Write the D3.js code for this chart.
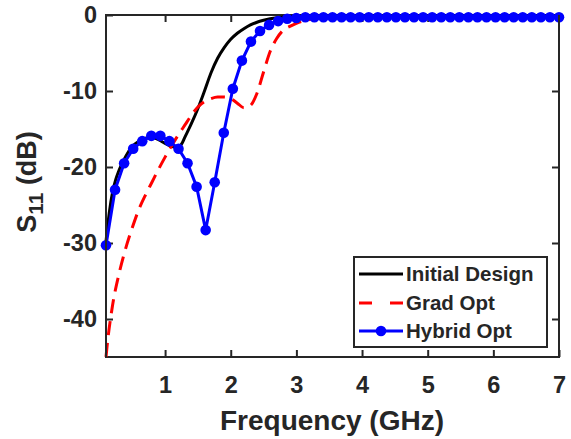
<!DOCTYPE html>
<html>
<head>
<meta charset="utf-8">
<script src="https://cdn.jsdelivr.net/npm/d3@7"></script>
<style>
  html, body { margin: 0; padding: 0; background: #fff; }
  svg { display: block; }
  text { font-family: "Liberation Sans", Arial, sans-serif; font-weight: bold; fill: #262626; }
</style>
</head>
<body>
<svg id="chart" width="571" height="439"></svg>
<script>
// ---- Data ----
const xTicks = [1, 2, 3, 4, 5, 6, 7];
const yTicks = [0, -10, -20, -30, -40];

const initialFreq = [0.1,0.15,0.2,0.25,0.3,0.4,0.5,0.6,0.7,0.8,0.9,1.0,1.1,1.2,1.25,1.3,1.4,1.5,1.6,1.7,1.8,1.9,2.0,2.1,2.2,2.3,2.4,2.5,2.6,2.7,2.8,3.0,3.5,4,5,6,7];
const initialS11  = [-29.8,-26.0,-23.3,-21.6,-20.4,-18.6,-17.3,-16.6,-16.2,-16.1,-16.4,-16.9,-17.3,-17.4,-17.0,-16.1,-14.3,-12.3,-10.0,-7.6,-5.7,-4.3,-3.2,-2.4,-1.8,-1.3,-0.95,-0.7,-0.5,-0.35,-0.25,-0.15,-0.1,-0.1,-0.1,-0.1,-0.1];

const gradFreq = [0.1,0.115,0.2,0.3,0.4,0.5,0.6,0.7,0.8,0.9,1.0,1.1,1.2,1.3,1.4,1.5,1.6,1.7,1.8,1.9,2.0,2.1,2.2,2.3,2.4,2.5,2.6,2.7,2.8,2.9,3.0,3.1,3.2,3.4,3.7,4,5,6,7];
const gradS11  = [-45,-43.7,-38.2,-34,-30.7,-28,-25.6,-23.7,-22.0,-20.3,-18.7,-17.2,-15.8,-14.5,-13.2,-12.1,-11.4,-11.0,-10.8,-10.8,-11.0,-11.6,-12.2,-11.9,-10.3,-7.5,-4.8,-3.1,-2.0,-1.5,-1.1,-0.8,-0.6,-0.4,-0.3,-0.25,-0.2,-0.2,-0.2];

const hybridFreq = [0.1,0.238,0.376,0.514,0.652,0.79,0.928,1.066,1.204,1.342,1.48,1.618,1.756,1.894,2.032,2.17,2.308,2.446,2.584,2.722,2.86,2.998,3.136,3.274,3.412,3.55,3.688,3.826,3.964,4.102,4.24,4.378,4.516,4.654,4.792,4.93,5.068,5.206,5.344,5.482,5.62,5.758,5.896,6.034,6.172,6.31,6.448,6.586,6.724,6.862,7.0];
const hybridS11  = [-30.3,-23.0,-19.5,-17.6,-16.6,-15.9,-15.9,-16.6,-17.6,-19.5,-22.6,-28.3,-22.0,-15.5,-9.7,-6.0,-3.5,-2.1,-1.3,-0.8,-0.5,-0.4,-0.3,-0.3,-0.3,-0.3,-0.3,-0.3,-0.3,-0.3,-0.3,-0.3,-0.3,-0.3,-0.3,-0.3,-0.3,-0.3,-0.3,-0.3,-0.3,-0.3,-0.3,-0.3,-0.3,-0.3,-0.3,-0.3,-0.3,-0.3,-0.3];

const seriesNames = ["Initial Design", "Grad Opt", "Hybrid Opt"];

// ---- Layout ----
const svg = d3.select("#chart");
const L = 106, R = 559, T = 15, B = 357;
const axisColor = "#262626";

const x = d3.scaleLinear().domain([0.1, 7]).range([L, R]);
const y = d3.scaleLinear().domain([-45, 0]).range([B, T]);

// Box
svg.append("rect").attr("x", L).attr("y", T).attr("width", R - L).attr("height", B - T)
  .attr("fill", "none").attr("stroke", axisColor).attr("stroke-width", 2);

// Axes (hyphen-minus labels as in the reference)
const fmt = d => String(d);
const gx = svg.append("g").attr("transform", `translate(0,${B})`)
  .call(d3.axisBottom(x).tickValues(xTicks).tickSizeInner(-7).tickSizeOuter(0).tickPadding(19).tickFormat(fmt));
const gxTop = svg.append("g").attr("transform", `translate(0,${T})`)
  .call(d3.axisTop(x).tickValues(xTicks).tickSizeInner(-7).tickSizeOuter(0).tickFormat(""));
const gy = svg.append("g").attr("transform", `translate(${L},0)`)
  .call(d3.axisLeft(y).tickValues(yTicks).tickSizeInner(-7).tickSizeOuter(0).tickPadding(9).tickFormat(fmt));
const gyR = svg.append("g").attr("transform", `translate(${R},0)`)
  .call(d3.axisRight(y).tickValues(yTicks).tickSizeInner(-7).tickSizeOuter(0).tickFormat(""));

[gx, gxTop, gy, gyR].forEach(g => {
  g.select(".domain").remove();
  g.selectAll(".tick line").attr("stroke", axisColor).attr("stroke-width", 2);
  g.selectAll(".tick text").attr("font-size", 23.5).attr("fill", axisColor)
    .style("font-family", '"Liberation Sans", Arial, sans-serif').style("font-weight", "bold");
});

// Lines
const line = d3.line().x(d => x(d[0])).y(d => y(d[1])).curve(d3.curveMonotoneX);
const lineLin = d3.line().x(d => x(d[0])).y(d => y(d[1]));

const initData = initialFreq.map((f, i) => [f, initialS11[i]]);
const gradData = gradFreq.map((f, i) => [f, gradS11[i]]);
const hybData = hybridFreq.map((f, i) => [f, hybridS11[i]]);

svg.append("path").datum(initData).attr("d", line)
  .attr("fill", "none").attr("stroke", "#000").attr("stroke-width", 3);
svg.append("path").datum(gradData).attr("d", line)
  .attr("fill", "none").attr("stroke", "#ff0000").attr("stroke-width", 3)
  .attr("stroke-dasharray", "14,8");
svg.append("path").datum(hybData).attr("d", lineLin)
  .attr("fill", "none").attr("stroke", "#0000ff").attr("stroke-width", 3);
svg.append("g").selectAll("circle").data(hybData).join("circle")
  .attr("cx", d => x(d[0])).attr("cy", d => y(d[1])).attr("r", 5.3)
  .attr("fill", "#0000ff");

// Left/right axis lines over the data
svg.append("line").attr("x1", L).attr("x2", L).attr("y1", T).attr("y2", B)
  .attr("stroke", axisColor).attr("stroke-width", 2);
svg.append("line").attr("x1", R).attr("x2", R).attr("y1", T).attr("y2", B)
  .attr("stroke", axisColor).attr("stroke-width", 2);

// Axis titles
svg.append("text").attr("x", 332).attr("y", 430).attr("text-anchor", "middle")
  .attr("font-size", 28).text("Frequency (GHz)");

const yt = svg.append("text").attr("transform", "translate(36,182) rotate(-90)")
  .attr("text-anchor", "middle").attr("font-size", 27);
yt.append("tspan").text("S");
yt.append("tspan").attr("font-size", 21).attr("dy", 7).text("11");
yt.append("tspan").attr("dy", -7).text(" (dB)");

// Legend
const lg = svg.append("g");
lg.append("rect").attr("x", 354).attr("y", 257).attr("width", 193).attr("height", 90)
  .attr("fill", "#fff").attr("stroke", axisColor).attr("stroke-width", 2);
const rowsY = [274, 303, 331];
lg.append("line").attr("x1", 359).attr("x2", 403).attr("y1", rowsY[0]).attr("y2", rowsY[0])
  .attr("stroke", "#000").attr("stroke-width", 3);
lg.append("line").attr("x1", 359).attr("x2", 403).attr("y1", rowsY[1]).attr("y2", rowsY[1])
  .attr("stroke", "#ff0000").attr("stroke-width", 3).attr("stroke-dasharray", "13,18");
lg.append("line").attr("x1", 359).attr("x2", 403).attr("y1", rowsY[2]).attr("y2", rowsY[2])
  .attr("stroke", "#0000ff").attr("stroke-width", 3);
lg.append("circle").attr("cx", 381).attr("cy", rowsY[2]).attr("r", 5.3).attr("fill", "#0000ff");
seriesNames.forEach((n, i) => {
  lg.append("text").attr("x", 406).attr("y", rowsY[i]).attr("dy", "0.36em")
    .attr("font-size", 20.5).attr("fill", "#111").text(n);
});
</script>
</body>
</html>
